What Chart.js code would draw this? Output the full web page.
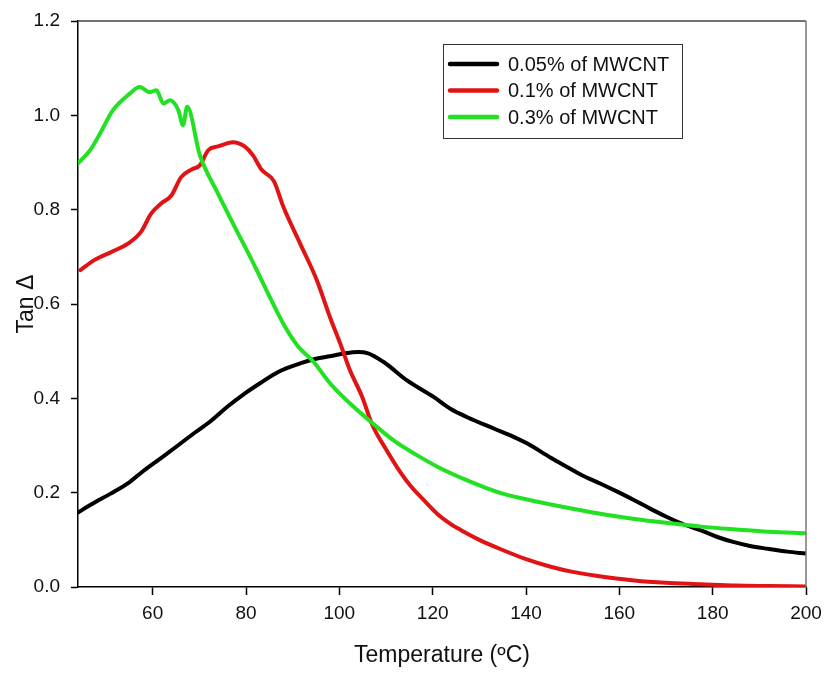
<!DOCTYPE html>
<html>
<head>
<meta charset="utf-8">
<script src="https://cdn.jsdelivr.net/npm/chart.js@4/dist/chart.umd.min.js"></script>
<style>
  html, body { margin: 0; padding: 0; background: #ffffff; }
  #wrap { width: 826px; height: 673px; position: relative; }
</style>
</head>
<body>
<div id="wrap"><canvas id="c" width="826" height="673"></canvas></div>
<script>
// ---- Data ----
const seriesLabels = ['0.05% of MWCNT', '0.1% of MWCNT', '0.3% of MWCNT'];

const tempBlack = [44, 47, 51, 55, 58, 62, 65.4, 69, 72.6, 76, 79.7, 83, 86.9, 91.6, 95, 98.8, 101, 104, 106, 109.5, 114.5, 120.2, 123.8, 127.4, 133.1, 137, 140.3, 145.3, 148.9, 152, 156, 160, 163.2, 167, 170.3, 174, 177.5, 181, 184.6, 188, 191.8, 196, 200];
const tanBlack  = [0.158, 0.176, 0.198, 0.222, 0.246, 0.275, 0.300, 0.327, 0.353, 0.382, 0.410, 0.432, 0.456, 0.474, 0.484, 0.491, 0.495, 0.498, 0.496, 0.477, 0.438, 0.403, 0.378, 0.360, 0.336, 0.320, 0.304, 0.274, 0.254, 0.237, 0.219, 0.200, 0.184, 0.164, 0.148, 0.132, 0.120, 0.106, 0.095, 0.087, 0.081, 0.075, 0.071];

const tempRed = [44.5, 47.5, 51.1, 54.7, 57.5, 59.7, 61.8, 64, 66.1, 68.3, 70.1, 71.9, 74, 77.2, 79.7, 81.5, 83.3, 86, 88, 91.6, 95.2, 98, 100.2, 102.3, 104.9, 107, 110, 113.1, 115.2, 118.8, 121, 123.8, 126, 130, 134.6, 140, 145.3, 150, 155, 163.2, 170, 177.5, 185, 192, 200];
const tanRed  = [0.672, 0.693, 0.710, 0.728, 0.753, 0.792, 0.813, 0.830, 0.869, 0.885, 0.894, 0.926, 0.934, 0.943, 0.934, 0.915, 0.885, 0.860, 0.806, 0.728, 0.650, 0.572, 0.516, 0.459, 0.403, 0.345, 0.292, 0.243, 0.215, 0.177, 0.155, 0.134, 0.121, 0.100, 0.080, 0.059, 0.043, 0.032, 0.024, 0.014, 0.009, 0.006, 0.003, 0.002, 0.001];

const tempGreen = [44, 46.8, 48.7, 51.5, 55.1, 57.2, 59.4, 60.8, 62.3, 63.7, 65.5, 66.5, 67.4, 70.1, 74, 77.6, 80.9, 84, 88, 91, 94.5, 98, 102.3, 108.1, 112, 116.7, 121, 127.4, 134.6, 140, 145.3, 150, 155, 160, 165, 170, 177.5, 185, 192, 200];
const tanGreen  = [0.898, 0.929, 0.961, 1.011, 1.046, 1.060, 1.049, 1.053, 1.025, 1.032, 1.011, 0.979, 1.018, 0.916, 0.834, 0.763, 0.700, 0.637, 0.558, 0.512, 0.477, 0.432, 0.389, 0.339, 0.308, 0.279, 0.255, 0.226, 0.199, 0.186, 0.175, 0.166, 0.157, 0.149, 0.142, 0.136, 0.128, 0.122, 0.117, 0.114];

const xTicks = [60, 80, 100, 120, 140, 160, 180, 200];
const yTicks = [0.0, 0.2, 0.4, 0.6, 0.8, 1.0, 1.2];

// ---- Build ----
const toPts = (xs, ys) => xs.map((x, i) => ({ x: x, y: ys[i] }));
const FONT = "'Liberation Sans', Arial, sans-serif";

const frameAndLegend = {
  id: 'frameAndLegend',
  afterDatasetsDraw(chart) {
    const ctx = chart.ctx;
    const a = chart.chartArea;
    ctx.save();
    ctx.lineWidth = 1.5;
    ctx.strokeStyle = '#444';
    ctx.beginPath();
    ctx.moveTo(a.left, a.top);
    ctx.lineTo(a.right, a.top);
    ctx.stroke();
    ctx.strokeStyle = '#777';
    ctx.beginPath();
    ctx.moveTo(a.right, a.top);
    ctx.lineTo(a.right, a.bottom);
    ctx.stroke();
    ctx.restore();
  },
  afterDraw(chart) {
    const ctx = chart.ctx;
    ctx.save();
    const bx = 443.5, by = 44.5, bw = 239, bh = 94;
    ctx.fillStyle = '#fff';
    ctx.fillRect(bx, by, bw, bh);
    ctx.lineWidth = 1;
    ctx.strokeStyle = '#333';
    ctx.strokeRect(bx, by, bw, bh);
    ctx.font = '20px ' + FONT;
    ctx.textBaseline = 'middle';
    ctx.textAlign = 'left';
    chart.data.datasets.forEach((ds, i) => {
      const y = 64 + i * 26.5;
      ctx.strokeStyle = ds.borderColor;
      ctx.lineWidth = 4.5;
      ctx.lineCap = 'round';
      ctx.beginPath();
      ctx.moveTo(450, y);
      ctx.lineTo(497, y);
      ctx.stroke();
      ctx.fillStyle = '#111';
      ctx.fillText(ds.label, 508, y + 1);
    });
    ctx.restore();
  }
};

new Chart(document.getElementById('c'), {
  type: 'line',
  data: {
    datasets: [
      { label: seriesLabels[0], data: toPts(tempBlack, tanBlack), borderColor: '#000000', order: 3 },
      { label: seriesLabels[1], data: toPts(tempRed, tanRed), borderColor: '#e01414', order: 2 },
      { label: seriesLabels[2], data: toPts(tempGreen, tanGreen), borderColor: '#22e022', order: 1 }
    ].map(d => Object.assign(d, {
      borderWidth: 4,
      pointRadius: 0,
      fill: false,
      cubicInterpolationMode: 'monotone',
      borderJoinStyle: 'round',
      borderCapStyle: 'round'
    }))
  },
  options: {
    responsive: false,
    animation: false,
    devicePixelRatio: 1,
    layout: { padding: { top: 21, right: 20, left: 0, bottom: 0 } },
    plugins: { legend: { display: false }, tooltip: { enabled: false } },
    scales: {
      x: {
        type: 'linear',
        min: 44, max: 200,
        afterBuildTicks: (s) => { s.ticks = xTicks.map(v => ({ value: v })); },
        afterFit: (s) => { s.height = 86; s.paddingRight = 0; s.paddingLeft = 0; },
        grid: { drawOnChartArea: false, drawTicks: true, tickLength: 8, tickColor: '#000', tickWidth: 1.5 },
        border: { display: true, color: '#000', width: 1.5 },
        ticks: { color: '#111', font: { family: FONT, size: 19 }, padding: 7, maxRotation: 0,
                 callback: (v) => String(v) },
        title: { display: true, text: 'Temperature (ºC)', color: '#111',
                 font: { family: FONT, size: 23 }, padding: { top: 0, bottom: 4 } }
      },
      y: {
        type: 'linear',
        min: 0, max: 1.2,
        afterBuildTicks: (s) => { s.ticks = yTicks.map(v => ({ value: v })); },
        afterFit: (s) => { s.width = 78; s.paddingTop = 0; s.paddingBottom = 0; },
        grid: { drawOnChartArea: false, drawTicks: true, tickLength: 7, tickColor: '#000', tickWidth: 1.5 },
        border: { display: true, color: '#000', width: 1.5 },
        ticks: { color: '#111', font: { family: FONT, size: 19 }, padding: 11,
                 callback: (v) => Number(v).toFixed(1) },
        title: { display: true, text: 'Tan Δ', color: '#111',
                 font: { family: FONT, size: 23 }, padding: { top: 13, bottom: 0 } }
      }
    }
  },
  plugins: [frameAndLegend]
});
</script>
</body>
</html>
